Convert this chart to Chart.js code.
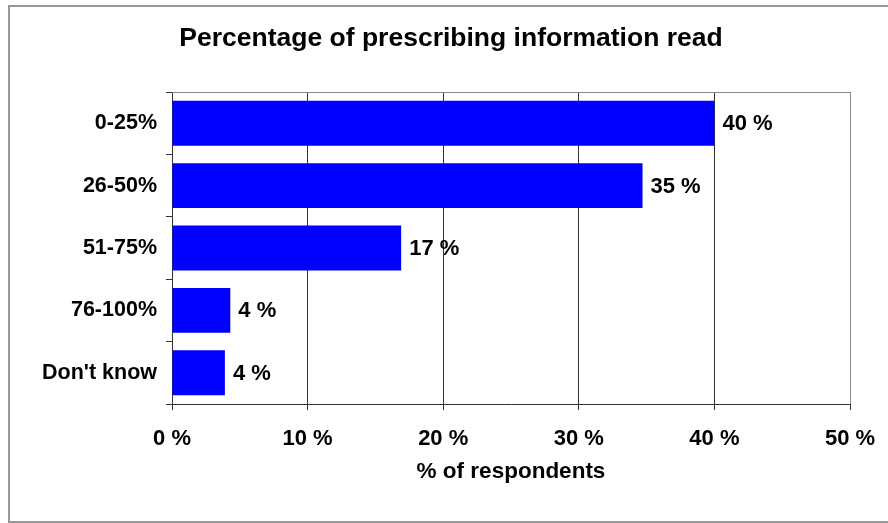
<!DOCTYPE html>
<html>
<head>
<meta charset="utf-8">
<script src="https://cdn.jsdelivr.net/npm/chart.js@4.4.1/dist/chart.umd.min.js"></script>
<style>
  html, body { margin: 0; padding: 0; background: #fff; }
  canvas { display: block; }
</style>
</head>
<body>
<canvas id="grafico" width="888" height="523"></canvas>
<script>
// Dados
const categorias = ['0-25%', '26-50%', '51-75%', '76-100%', "Don't know"];
const valores = [40.0, 34.7, 16.9, 4.3, 3.9];
const ticksX = [0, 10, 20, 30, 40, 50];
const titulo = 'Percentage of prescribing information read';
const tituloEixoX = '% of respondents';

const FONTE = '"Liberation Sans", Arial, sans-serif';

// Moldura cinza externa, fundo branco e título
const molduraPlugin = {
    id: 'moldura',
    beforeDraw(chart) {
        const c = chart.ctx;
        c.save();
        c.fillStyle = '#fff';
        c.fillRect(0, 0, chart.width, chart.height);
        c.strokeStyle = '#999';
        c.lineWidth = 2;
        c.strokeRect(9, 6, chart.width + 20, 516);
        c.restore();
    },
    afterDraw(chart) {
        const a = chart.chartArea;
        const c = chart.ctx;
        c.save();
        // borda superior da área do gráfico
        c.strokeStyle = '#888';
        c.lineWidth = 1;
        c.beginPath();
        c.moveTo(a.left, Math.round(a.top) + 0.5);
        c.lineTo(a.right, Math.round(a.top) + 0.5);
        c.stroke();
        // título
        c.font = 'bold 26.5px ' + FONTE;
        c.fillStyle = '#000';
        c.textAlign = 'center';
        c.textBaseline = 'alphabetic';
        c.fillText(titulo, 451, 46);
        c.restore();
    }
};

// Rótulos de valor ao lado das barras
const rotulosPlugin = {
    id: 'rotulos',
    afterDatasetsDraw(chart) {
        const c = chart.ctx;
        const meta = chart.getDatasetMeta(0);
        c.save();
        c.font = 'bold 22px ' + FONTE;
        c.fillStyle = '#000';
        c.textAlign = 'left';
        c.textBaseline = 'middle';
        meta.data.forEach((barra, i) => {
            c.fillText(Math.round(valores[i]) + ' %', barra.x + 8, barra.y + 1);
        });
        c.restore();
    }
};

new Chart(document.getElementById('grafico'), {
    type: 'bar',
    data: {
        labels: categorias,
        datasets: [{
            data: valores,
            backgroundColor: '#0000ff',
            borderWidth: 0,
            categoryPercentage: 1,
            barPercentage: 0.72
        }]
    },
    options: {
        indexAxis: 'y',
        responsive: false,
        animation: false,
        devicePixelRatio: 1,
        layout: { padding: { left: 12, right: 38, top: 92, bottom: 0 } },
        plugins: {
            legend: { display: false },
            tooltip: { enabled: false },
            title: { display: false }
        },
        scales: {
            x: {
                min: 0,
                max: 50,
                afterBuildTicks: (s) => { s.ticks = ticksX.map(v => ({ value: v })); },
                afterFit: (s) => {
                    s.height = 119;
                    s.paddingLeft = 0;
                    s.paddingRight = 0;
                },
                border: { color: '#333' },
                grid: {
                    color: (ctx) => ctx.tick && ctx.tick.value === 50 ? '#888' : '#333',
                    tickColor: '#333',
                    tickLength: 6
                },
                ticks: {
                    color: '#000',
                    padding: 16,
                    font: { family: FONTE, size: 22, weight: 'bold' },
                    callback: (v) => v + ' %'
                },
                title: {
                    display: true,
                    text: tituloEixoX,
                    color: '#000',
                    font: { family: FONTE, size: 22.5, weight: 'bold' },
                    padding: { top: 0, bottom: 38 }
                }
            },
            y: {
                offset: true,
                afterFit: (s) => { s.width = 160; },
                border: { color: '#333' },
                grid: {
                    offset: true,
                    drawOnChartArea: false,
                    tickColor: '#333',
                    tickLength: 6
                },
                ticks: {
                    color: '#000',
                    padding: 9,
                    font: { family: FONTE, size: 21.5, weight: 'bold' }
                }
            }
        }
    },
    plugins: [molduraPlugin, rotulosPlugin]
});
</script>
</body>
</html>
